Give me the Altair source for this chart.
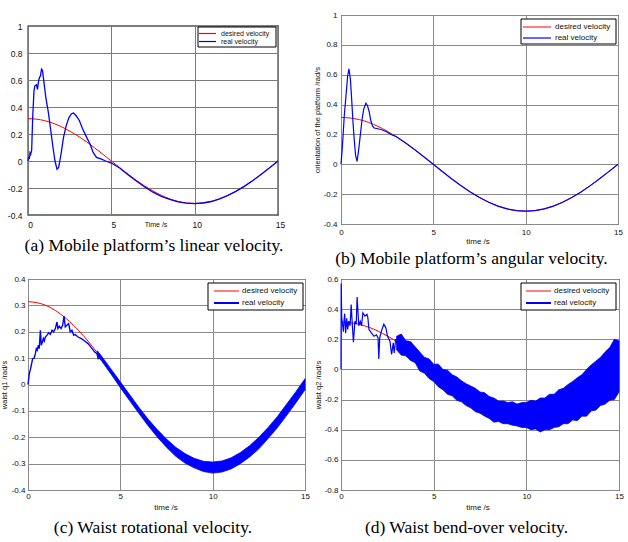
import altair as alt
import pandas as pd

# ---------------- data ----------------
T_DES = [0.0, 0.5, 1.0, 1.5, 2.0, 2.5, 3.0, 3.5, 4.0, 4.5, 5.0, 5.5, 6.0, 6.5, 7.0, 7.5,
         8.0, 8.5, 9.0, 9.5, 10.0, 10.5, 11.0, 11.5, 12.0, 12.5, 13.0, 13.5, 14.0, 14.5, 15.0]
DESIRED = [0.314, 0.310, 0.299, 0.280, 0.254, 0.222, 0.185, 0.143, 0.097, 0.049, 0.0,
           -0.049, -0.097, -0.143, -0.185, -0.222, -0.254, -0.280, -0.299, -0.310, -0.314,
           -0.310, -0.299, -0.280, -0.254, -0.222, -0.185, -0.143, -0.097, -0.049, 0.0]

# (a) linear velocity, real
A_T = [0.0, 0.04, 0.08, 0.12, 0.16, 0.22, 0.28, 0.36, 0.41, 0.51, 0.57, 0.63, 0.69, 0.75,
       0.81, 0.87, 0.95, 1.07, 1.21, 1.34, 1.5, 1.62, 1.74, 1.84, 1.98, 2.13, 2.29, 2.45,
       2.61, 2.73, 2.89, 3.08, 3.28, 3.52, 3.72, 3.91, 4.11, 4.37, 4.66, 5.0, 5.5, 6.0,
       6.5, 7.0, 7.5, 8.0, 8.5, 9.0, 9.5, 10.0, 10.5, 11.0, 11.5, 12.0, 12.5, 13.0, 13.5,
       14.0, 14.5, 15.0]
A_REAL = [0.0, 0.03, 0.015, 0.06, 0.05, 0.08, 0.32, 0.52, 0.557, 0.564, 0.53, 0.59, 0.62,
          0.63, 0.68, 0.67, 0.59, 0.47, 0.37, 0.25, 0.10, 0.0, -0.06, -0.047, 0.05, 0.175,
          0.26, 0.32, 0.35, 0.355, 0.335, 0.30, 0.237, 0.175, 0.126, 0.064, 0.027, 0.015,
          0.0, -0.015, -0.052, -0.101, -0.148, -0.192, -0.231, -0.262, -0.285, -0.302,
          -0.312, -0.315, -0.311, -0.300, -0.281, -0.255, -0.223, -0.186, -0.144, -0.098,
          -0.050, 0.0]

# (b) angular velocity, real
B_T = [0.0, 0.07, 0.18, 0.27, 0.36, 0.43, 0.51, 0.58, 0.65, 0.72, 0.79, 0.87, 0.96, 1.05,
       1.14, 1.23, 1.35, 1.44, 1.53, 1.62, 1.71, 1.8, 2.17, 2.44, 2.71, 3.0, 3.5, 4.0, 4.5,
       5.0, 5.5, 6.0, 6.5, 7.0, 7.5, 8.0, 8.5, 9.0, 9.5, 10.0, 10.5, 11.0, 11.5, 12.0,
       12.5, 13.0, 13.5, 14.0, 14.5, 15.0]
B_REAL = [0.0, 0.11, 0.33, 0.46, 0.59, 0.64, 0.57, 0.43, 0.28, 0.16, 0.06, 0.02, 0.10,
          0.20, 0.30, 0.37, 0.41, 0.39, 0.35, 0.29, 0.255, 0.243, 0.233, 0.22, 0.20, 0.185,
          0.143, 0.097, 0.049, 0.0, -0.050, -0.099, -0.144, -0.186, -0.222, -0.254,
          -0.280, -0.299, -0.310, -0.314, -0.310, -0.299, -0.280, -0.254, -0.222, -0.185,
          -0.143, -0.097, -0.049, 0.0]

# (c) waist rotational velocity, real (start-up part)
C_T = [0.0, 0.07, 0.16, 0.25, 0.33, 0.40, 0.45, 0.50, 0.56, 0.61, 0.67, 0.72, 0.78, 0.83,
       0.88, 0.94, 1.03, 1.12, 1.21, 1.30, 1.39, 1.48, 1.57, 1.62, 1.70, 1.79, 1.88, 1.95,
       2.02, 2.11, 2.20, 2.29, 2.38, 2.47, 2.56, 2.71, 2.89, 3.07, 3.25, 3.43, 3.61, 3.74,
       3.80, 3.92, 4.0]
C_REAL = [0.0, 0.04, 0.066, 0.098, 0.10, 0.117, 0.136, 0.13, 0.149, 0.136, 0.206, 0.149,
          0.161, 0.174, 0.165, 0.18, 0.187, 0.196, 0.19, 0.206, 0.20, 0.212, 0.237, 0.212,
          0.221, 0.212, 0.225, 0.259, 0.218, 0.225, 0.231, 0.20, 0.206, 0.187, 0.189, 0.18,
          0.174, 0.165, 0.155, 0.14, 0.123, 0.117, 0.098, 0.10, 0.097]
# (c) noise band after start-up (upper / lower edge)
C_BAND_T = [3.75, 4.0, 4.5, 5.0, 5.5, 6.0, 6.5, 7.0, 7.5, 8.0, 8.5, 9.0, 9.5, 10.0, 10.5,
            11.0, 11.5, 12.0, 12.5, 13.0, 13.5, 14.0, 14.5, 15.0]
C_UPPER = [0.128, 0.106, 0.058, 0.010, -0.038, -0.086, -0.131, -0.171, -0.207, -0.238,
           -0.262, -0.280, -0.291, -0.294, -0.290, -0.278, -0.258, -0.232, -0.200, -0.163,
           -0.122, -0.075, -0.028, 0.022]
C_LOWER = [0.110, 0.088, 0.039, -0.012, -0.061, -0.109, -0.156, -0.199, -0.238, -0.272,
           -0.298, -0.316, -0.330, -0.336, -0.332, -0.320, -0.300, -0.275, -0.244, -0.205,
           -0.164, -0.118, -0.070, -0.020]

# (d) waist bend-over velocity, real (start-up part)
D_T = [0.0, 0.01, 0.04, 0.13, 0.16, 0.20, 0.25, 0.31, 0.36, 0.42, 0.49, 0.55, 0.60, 0.67,
       0.75, 0.82, 0.87, 0.96, 1.04, 1.11, 1.18, 1.29, 1.40, 1.45, 1.51, 1.64, 1.78, 1.91,
       2.0, 2.04, 2.09, 2.18, 2.31, 2.42, 2.51, 2.64, 2.73, 2.82, 2.87, 2.95, 3.05, 3.18,
       3.27, 3.36]
D_REAL = [0.0, 0.57, 0.34, 0.25, 0.32, 0.37, 0.24, 0.34, 0.265, 0.32, 0.29, 0.43, 0.32,
          0.18, 0.32, 0.30, 0.48, 0.29, 0.32, 0.29, 0.376, 0.354, 0.365, 0.343, 0.265,
          0.243, 0.22, 0.23, 0.21, 0.07, 0.21, 0.254, 0.30, 0.276, 0.22, 0.187, 0.10, 0.176,
          0.11, 0.20, 0.165, 0.22, 0.154, 0.20]
# (d) noise band (upper / lower edge, spikes included)
D_BAND_T = [3.0, 3.25, 3.5, 3.75, 4.0, 4.25, 4.5, 4.75, 5.0, 5.25, 5.5, 5.75, 6.0, 6.25,
            6.5, 6.75, 7.0, 7.25, 7.5, 7.75, 8.0, 8.25, 8.5, 8.75, 9.0, 9.25, 9.5, 9.75,
            10.0, 10.25, 10.5, 10.75, 11.0, 11.25, 11.5, 11.75, 12.0, 12.25, 12.5, 12.75,
            13.0, 13.25, 13.5, 13.75, 14.0, 14.25, 14.5, 14.75, 15.0]
D_UPPER = [0.22, 0.235, 0.19, 0.185, 0.15, 0.115, 0.08, 0.07, 0.035, 0.035, 0.0, -0.005,
           -0.035, -0.05, -0.075, -0.095, -0.11, -0.125, -0.15, -0.155, -0.18, -0.19, -0.21,
           -0.21, -0.22, -0.215, -0.23, -0.22, -0.22, -0.205, -0.21, -0.19, -0.19,
           -0.165, -0.165, -0.135, -0.125, -0.1, -0.08, -0.055, -0.035, 0.0, 0.03, 0.055,
           0.08, 0.115, 0.145, 0.2, 0.19]
D_LOWER = [0.13, 0.095, 0.09, 0.06, 0.045, -0.01, -0.025, -0.06, -0.08, -0.115, -0.135,
           -0.165, -0.175, -0.205, -0.215, -0.24, -0.255, -0.28, -0.29, -0.31, -0.325,
           -0.35, -0.345, -0.36, -0.36, -0.37, -0.375, -0.385, -0.385, -0.4, -0.395, -0.415,
           -0.4, -0.4, -0.385, -0.38, -0.36, -0.36, -0.335, -0.34, -0.31, -0.31, -0.275,
           -0.27, -0.24, -0.23, -0.205, -0.2, -0.15]

X_TICKS = [0, 5, 10, 15]
Y_TICKS_AB = [-0.4, -0.2, 0, 0.2, 0.4, 0.6, 0.8, 1]
Y_TICKS_C = [-0.4, -0.3, -0.2, -0.1, 0, 0.1, 0.2, 0.3, 0.4]
Y_TICKS_D = [-0.8, -0.6, -0.4, -0.2, 0, 0.2, 0.4, 0.6]
LEGEND_LABELS = ["desired velocity", "real velocity"]
CAPTIONS = ["(a) Mobile platform\u2019s linear velocity.",
            "(b) Mobile platform\u2019s angular velocity.",
            "(c) Waist rotational velocity.",
            "(d) Waist bend-over velocity."]
X_TITLES = ["Time /s", "time /s", "time /s", "time /s"]
Y_TITLES = ["", "orientation of the platform /rad/s", "waist q1 /rad/s", "waist q2 /rad/s"]

RED = "#ff0000"
BLUE = "#0000ff"
SANS = "Liberation Sans"
SERIF = "Liberation Serif"


def panel(cfg):
    w, h = cfg["w"], cfg["h"]
    xs = alt.Scale(domain=[0, 15], nice=False, zero=False)
    ys = alt.Scale(domain=cfg["ydom"], nice=False, zero=False)
    xax = alt.Axis(values=X_TICKS, title=None, grid=True, gridColor=cfg["grid"], gridWidth=1,
                   ticks=False, tickSize=0, domain=False, labelFont=SANS,
                   labelFontSize=cfg["lfs"], labelColor="#111111", labelPadding=cfg["xlp"],
                   labelExpr="datum.value + ''", labelFlush=False, labelOverlap=False,
                   labelOffset=cfg["xlo"])
    yax = alt.Axis(values=cfg["yticks"], title=None, grid=True, gridColor=cfg["grid"],
                   gridWidth=1, ticks=False, tickSize=0, domain=False, labelFont=SANS,
                   labelFontSize=cfg["lfs"], labelColor="#111111", labelPadding=cfg["ylp"],
                   labelExpr="datum.value + ''", labelOverlap=False)
    X = alt.X("t:Q", scale=xs, axis=xax)
    Y = alt.Y("v:Q", scale=ys, axis=yax)

    layers = []
    des = pd.DataFrame({"t": T_DES, "v": DESIRED})
    layers.append(alt.Chart(des).mark_line(color=RED, strokeWidth=1, interpolate="monotone")
                  .encode(x=X, y=Y))
    if cfg.get("band") is not None:
        bt, bu, bl = cfg["band"]
        bdf = pd.DataFrame({"t": bt, "v": bl, "hi": bu})
        layers.append(alt.Chart(bdf).mark_area(color=BLUE, opacity=1, stroke=BLUE,
                                               strokeWidth=0.8)
                      .encode(x=X, y=Y, y2=alt.Y2("hi:Q")))
    rt, rv = cfg["real"]
    rdf = pd.DataFrame({"t": rt, "v": rv})
    layers.append(alt.Chart(rdf).mark_line(color=BLUE, strokeWidth=cfg["bw"]).encode(x=X, y=Y))

    # legend box
    lg = cfg["legend"]
    one = pd.DataFrame({"k": [0]})
    layers.append(alt.Chart(one).mark_rect(fill="white", stroke="black", strokeWidth=1)
                  .encode(x=alt.value(lg["x0"]), x2=alt.value(lg["x1"]),
                          y=alt.value(lg["y0"]), y2=alt.value(lg["y1"])))
    for i, (lab, col) in enumerate(zip(LEGEND_LABELS, [RED, BLUE])):
        ry = lg["rows"][i]
        layers.append(alt.Chart(one).mark_rule(color=col, strokeWidth=lg["lw"][i])
                      .encode(x=alt.value(lg["lx0"]), x2=alt.value(lg["lx1"]), y=alt.value(ry)))
        layers.append(alt.Chart(one).mark_text(text=lab, font=SANS, fontSize=lg["fs"],
                                               align="left", baseline="middle", color="#111111")
                      .encode(x=alt.value(lg["tx"]), y=alt.value(ry)))

    # axis titles
    xt = cfg["xtitle"]
    layers.append(alt.Chart(one).mark_text(text=xt["text"], font=xt["font"], fontSize=xt["fs"],
                                           align="center", baseline="middle", color="#111111")
                  .encode(x=alt.value(xt["x"]), y=alt.value(xt["y"])))
    yt = cfg.get("ytitle")
    if yt is not None:
        layers.append(alt.Chart(one).mark_text(text=yt["text"], font=SANS, fontSize=yt["fs"],
                                               angle=270, align="center", baseline="middle",
                                               color="#111111")
                      .encode(x=alt.value(yt["x"]), y=alt.value(yt["y"])))
    # caption
    cp = cfg["caption"]
    layers.append(alt.Chart(one).mark_text(text=cp["text"], font=SERIF, fontSize=17.5,
                                           align="center", baseline="middle", color="black")
                  .encode(x=alt.value(cp["x"]), y=alt.value(cp["y"])))

    return alt.layer(*layers).properties(
        width=w, height=h,
        view=alt.ViewBackground(stroke="black", strokeWidth=cfg["frame"]))


def spacer(h):
    one = pd.DataFrame({"k": [0]})
    return (alt.Chart(one).mark_rule(strokeOpacity=0)
            .encode(x=alt.value(0), y=alt.value(1), y2=alt.value(2))
            .properties(width=10, height=h, view=alt.ViewBackground(strokeOpacity=0)))


A = panel(dict(
    w=250, h=189, ydom=[-0.4, 1], yticks=Y_TICKS_AB, grid="#7a7a7a", lfs=8.5, xlp=5, ylp=6,
    xlo=2, bw=1.3, frame=1.3, real=(A_T, A_REAL),
    legend=dict(x0=170, x1=248, y0=1, y1=21, lx0=171, lx1=188, rows=[7.5, 15.5], tx=193,
                fs=7, lw=[1.2, 1.2]),
    xtitle=dict(text=X_TITLES[0], x=128, y=199, fs=7,
                font="Liberation Sans Narrow, Liberation Sans"),
    caption=dict(text=CAPTIONS[0], x=126, y=220)))

B = panel(dict(
    w=277, h=209, ydom=[-0.4, 1], yticks=Y_TICKS_AB, grid="#8a8a8a", lfs=8, xlp=4, ylp=4,
    xlo=0, bw=1.2, frame=1, real=(B_T, B_REAL),
    legend=dict(x0=180, x1=275, y0=4, y1=29, lx0=182, lx1=210, rows=[12, 23], tx=214,
                fs=8, lw=[1, 1.2]),
    xtitle=dict(text=X_TITLES[1], x=137, y=227, fs=8, font=SANS),
    ytitle=dict(text=Y_TITLES[1], x=-23, y=105, fs=7.5),
    caption=dict(text=CAPTIONS[1], x=130.5, y=244)))

C = panel(dict(
    w=277, h=211, ydom=[-0.4, 0.4], yticks=Y_TICKS_C, grid="#8a8a8a", lfs=8, xlp=2, ylp=3,
    xlo=0, bw=1.4, frame=1, real=(C_T, C_REAL), band=(C_BAND_T, C_UPPER, C_LOWER),
    legend=dict(x0=180, x1=275, y0=4, y1=31, lx0=186, lx1=211, rows=[12, 24], tx=214,
                fs=8, lw=[1, 2]),
    xtitle=dict(text=X_TITLES[2], x=138, y=229, fs=8, font=SANS),
    ytitle=dict(text=Y_TITLES[2], x=-23, y=106, fs=7.5),
    caption=dict(text=CAPTIONS[2], x=125, y=249)))

D = panel(dict(
    w=278, h=211, ydom=[-0.8, 0.6], yticks=Y_TICKS_D, grid="#8a8a8a", lfs=8, xlp=2, ylp=3,
    xlo=0, bw=1.2, frame=1, real=(D_T, D_REAL), band=(D_BAND_T, D_UPPER, D_LOWER),
    legend=dict(x0=180, x1=275, y0=4, y1=31, lx0=185, lx1=210, rows=[12, 24], tx=213,
                fs=8, lw=[1, 2]),
    xtitle=dict(text=X_TITLES[3], x=137, y=229, fs=8, font=SANS),
    ytitle=dict(text=Y_TITLES[3], x=-22, y=106, fs=7.5),
    caption=dict(text=CAPTIONS[3], x=125.5, y=249)))

left = alt.vconcat(spacer(11), A, spacer(64), C, spacing=0, bounds="flush")
right = alt.vconcat(B, spacer(55), D, spacing=0, bounds="flush")
chart = (alt.hconcat(left, right, spacing=3, bounds="full")
         .properties(padding={"left": 0, "top": 10, "right": 0, "bottom": 0},
                     background="white"))

chart.save("out.html", embed_options={"renderer": "svg", "actions": False})
